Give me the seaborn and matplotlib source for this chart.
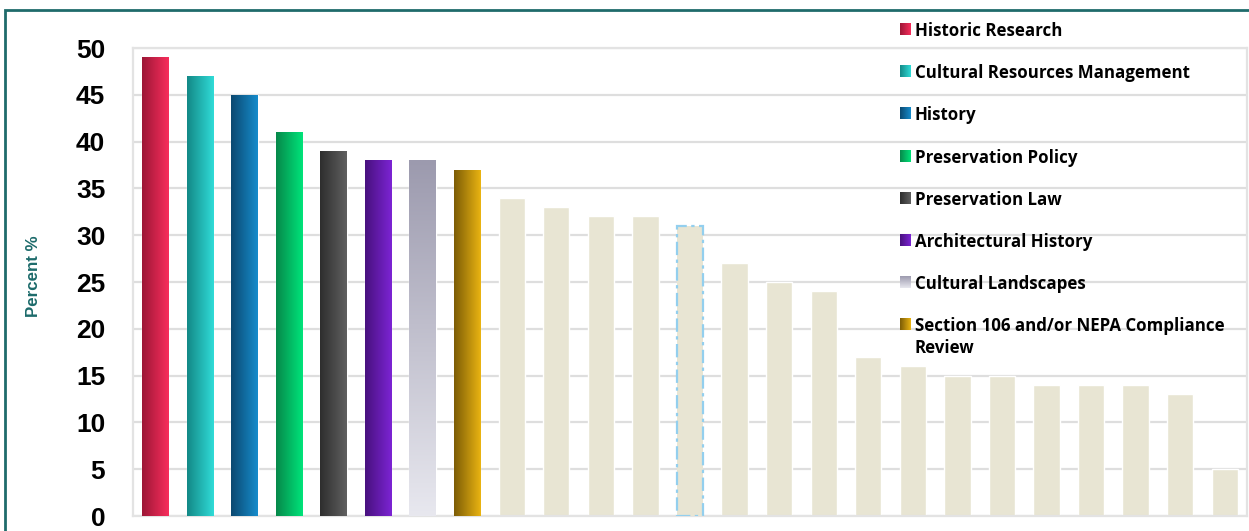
import numpy as np
import pandas as pd
import matplotlib
matplotlib.use("Agg")
import matplotlib.pyplot as plt
import seaborn as sns
from matplotlib.colors import LinearSegmentedColormap
from matplotlib.patches import Rectangle

# Named focus areas (first eight bars) and all bar values, in rank order
labels = [
    "Historic Research",
    "Cultural Resources Management",
    "History",
    "Preservation Policy",
    "Preservation Law",
    "Architectural History",
    "Cultural Landscapes",
    "Section 106 and/or NEPA Compliance\nReview",
]
values = [49, 47, 45, 41, 39, 38, 38, 37, 34, 33, 32, 32, 31,
          27, 25, 24, 17, 16, 15, 15, 14, 14, 14, 13, 5]
ranks = [str(r) for r in range(1, len(values) + 1)]
yticks = list(range(0, 51, 5))

# Gradient stops for the named bars: (start, end, direction)
# horizontal gradients run left->right, vertical ones bottom->top
gradients = [
    ("#9c1636", "#f82e5c", "h"),
    ("#138886", "#30dcd8", "h"),
    ("#0b4870", "#168ccc", "h"),
    ("#07884a", "#00e47a", "h"),
    ("#2e2e2e", "#606060", "h"),
    ("#48117e", "#7c24d4", "h"),
    ("#e8e8ef", "#9c9aae", "v"),
    ("#7c5c06", "#eab412", "h"),
]
other_color = "#e8e5d3"
highlight = 12  # bar drawn with a dashed outline

W, H = 1249, 531
sns.set_theme(style="white")
plt.rcParams["font.family"] = ["Liberation Sans", "DejaVu Sans"]

fig = plt.figure(figsize=(W / 100, H / 100), dpi=100)
ax = fig.add_axes([133 / W, 15 / H, 1114 / W, 468 / H])


def mix(c1, c2):
    a = np.array(matplotlib.colors.to_rgb(c1))
    b = np.array(matplotlib.colors.to_rgb(c2))
    return tuple((a + b) / 2)


palette = {}
for i, r in enumerate(ranks):
    palette[r] = mix(gradients[i][0], gradients[i][1]) if i < len(gradients) else other_color

df = pd.DataFrame({"rank": ranks, "value": values})
sns.barplot(data=df, x="rank", y="value", hue="rank", palette=palette,
            legend=False, width=0.59, saturation=1, ax=ax, zorder=2)

bars = sorted(ax.patches, key=lambda p: p.get_x())


def grad_cmap(c0, c1):
    return LinearSegmentedColormap.from_list("g", [c0, c1])


def grad_array(direction):
    g = np.linspace(0, 1, 256)
    return g[None, :] if direction == "h" else g[:, None]


# Fill the named bars with their gradients, clipped to each bar
for b, (c0, c1, d) in zip(bars, gradients):
    x0, y0, w, h = b.get_x(), b.get_y(), b.get_width(), b.get_height()
    im = ax.imshow(grad_array(d), cmap=grad_cmap(c0, c1),
                   extent=[x0, x0 + w, y0, y0 + h], origin="lower",
                   aspect="auto", interpolation="bilinear", zorder=3)
    im.set_clip_path(b)

hb = bars[highlight]
hb.set_edgecolor("#93cfee")
hb.set_linestyle((0, (6, 2, 1.5, 2)))
hb.set_linewidth(1.6)
hb.set_zorder(4)

ax.set_xlim(-0.5, len(values) - 0.5)
ax.set_ylim(0, 50)
ax.set_xticks([])
ax.set_yticks(yticks)
ax.set_yticklabels([str(t) for t in yticks], fontsize=19, fontweight="bold", color="black")
ax.tick_params(axis="y", length=0, pad=20)
ax.set_xlabel("")
ax.set_ylabel("")
ax.set_axisbelow(True)
ax.yaxis.grid(True, color="#dedede", linewidth=1.6)
for s in ax.spines.values():
    s.set_visible(True)
    s.set_color("#e3e3e3")
    s.set_linewidth(1.6)

fig.text(33 / W, 1 - 276 / H, "Percent %", rotation=90, ha="center", va="center",
         fontsize=12.2, fontweight="bold", color="#1d6b6b")

# Legend: gradient swatches with bold labels
centers = [29, 71, 113, 156, 198, 240, 282, 324]
for (c0, c1, d), lab, cy in zip(gradients, labels, centers):
    sq = fig.add_axes([900 / W, 1 - (cy + 6) / H, 11 / W, 12 / H])
    sq.imshow(grad_array(d), cmap=grad_cmap(c0, c1), origin="lower",
              aspect="auto", interpolation="bilinear")
    sq.set_axis_off()
    nlines = lab.count("\n") + 1
    ty = cy + 2 + (nlines - 1) * 11
    fig.text(915 / W, 1 - ty / H, lab, ha="left", va="center",
             fontsize=12.2, fontweight="bold", color="#000000",
             family=["Open Sans", "DejaVu Sans"], linespacing=1.3)

# Teal frame around the chart
fig.patches.append(Rectangle((5 / W, -0.2), 2, 1 - 10 / H + 0.2,
                             transform=fig.transFigure, fill=False,
                             edgecolor="#1f6b6b", linewidth=2))

fig.savefig("out.png", dpi=100)
